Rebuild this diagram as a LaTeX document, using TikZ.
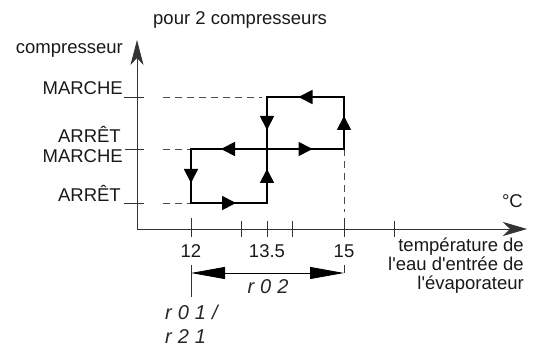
\documentclass[tikz,border=0pt]{standalone}
\usepackage{fontspec}
\setmainfont{Liberation Sans}[Ligatures=TeXOff]
\newfontfamily\segfont{Liberation Sans}[Ligatures=TeXOff, LetterSpace=30]
\usetikzlibrary{arrows.meta}
\begin{document}
\begin{tikzpicture}[x=1pt,y=-1pt,
  lbl/.style={font=\fontsize{18.5}{19}\selectfont, inner sep=0pt, text=black!90},
  seg/.style={font=\segfont\fontsize{20}{20}\selectfont\itshape, inner sep=0pt, text=black!85},
  axis/.style={line width=0.8pt, draw=black!80},
  curve/.style={line width=1.8pt, line join=miter},
  guide/.style={line width=0.8pt, draw=black!70, dash pattern=on 7pt off 5pt},
  tip/.style={-{Triangle[length=14pt,width=14pt]}, line width=1.8pt},
]
\useasboundingbox (0,0) rectangle (544,347);

% axes
\coordinate (O) at (137,229);
\coordinate (Ytop) at (137,40);
\coordinate (Xend) at (527,229);
\draw[axis, -{Stealth[length=25pt,width=13pt,inset=7pt]}] (O) -- (Ytop);
\draw[axis, -{Stealth[length=24pt,width=14pt,inset=7pt]}] (O) -- (Xend);

% y ticks
\draw[axis] (124,97) -- (144,97);
\draw[axis] (125,149) -- (144,149);
\draw[axis] (124,203) -- (144,203);

% x ticks
\foreach \x in {241,267,292,394} \draw[axis] (\x,221) -- (\x,237);
\draw[axis] (191,218) -- (191,237);
\draw[axis] (344,218) -- (344,237);
\draw[axis] (191,265) -- (191,297);
\draw[axis] (344,265) -- (344,273);

% dimension arrow
\coordinate (D1) at (191,273);
\coordinate (D2) at (344,273);
\draw[line width=0.8pt, {Triangle[length=34pt,width=12pt]}-{Triangle[length=34pt,width=12pt]}] (D1) -- (D2);

% dashed guides
\draw[guide] (163,97) -- (262,97);
\draw[guide] (163,149) -- (191,149);
\draw[guide] (163,203) -- (191,203);
\draw[guide] (344,149) -- (344,212);

% hysteresis loop
\coordinate (A) at (191,149);
\coordinate (B) at (191,203);
\coordinate (C) at (267,203);
\coordinate (M) at (267,149);
\coordinate (E) at (267,97);
\coordinate (F) at (344,97);
\coordinate (G) at (344,149);
\draw[curve] (A) -- (B) -- (C) -- (E) -- (F) -- (G) -- cycle;

\draw[tip] (A) -- (191,183);
\draw[tip] (B) -- (236,203);
\draw[tip] (C) -- (267,169);
\draw[tip] (E) -- (267,130);
\draw[tip] (F) -- (298.5,97);
\draw[tip] (G) -- (344,116);
\draw[tip] (M) -- (221,149);
\draw[tip] (M) -- (312.5,149);

% texts
\node[lbl, anchor=base west] (title) at (153,25) {pour 2 compresseurs};
\node[lbl, anchor=base east] (ylab) at (123,54) {compresseur};
\node[lbl, anchor=base east] (on1) at (123,95) {MARCHE};
\node[lbl, anchor=base east] (off1) at (121,143) {ARRÊT};
\node[lbl, anchor=base east] (on2) at (123,163) {MARCHE};
\node[lbl, anchor=base east] (off2) at (121,202) {ARRÊT};
\node[lbl, anchor=base] (t12) at (191,258) {12};
\node[lbl, anchor=base] (t135) at (267,258) {13.5};
\node[lbl, anchor=base] (t15) at (344,258) {15};
\node[lbl, anchor=base east] (unit) at (523,208) {°C};
\node[lbl, anchor=base east, align=right] (xlab) at (524,290) {température de\\l'eau d'entrée de\\l'évaporateur};
\node[seg, anchor=base] (r02) at (268,294) {r02};
\node[seg, anchor=base west] (r01) at (165,320) {r01/};
\node[seg, anchor=base west] (r21) at (165,344) {r21};
\end{tikzpicture}
\end{document}
